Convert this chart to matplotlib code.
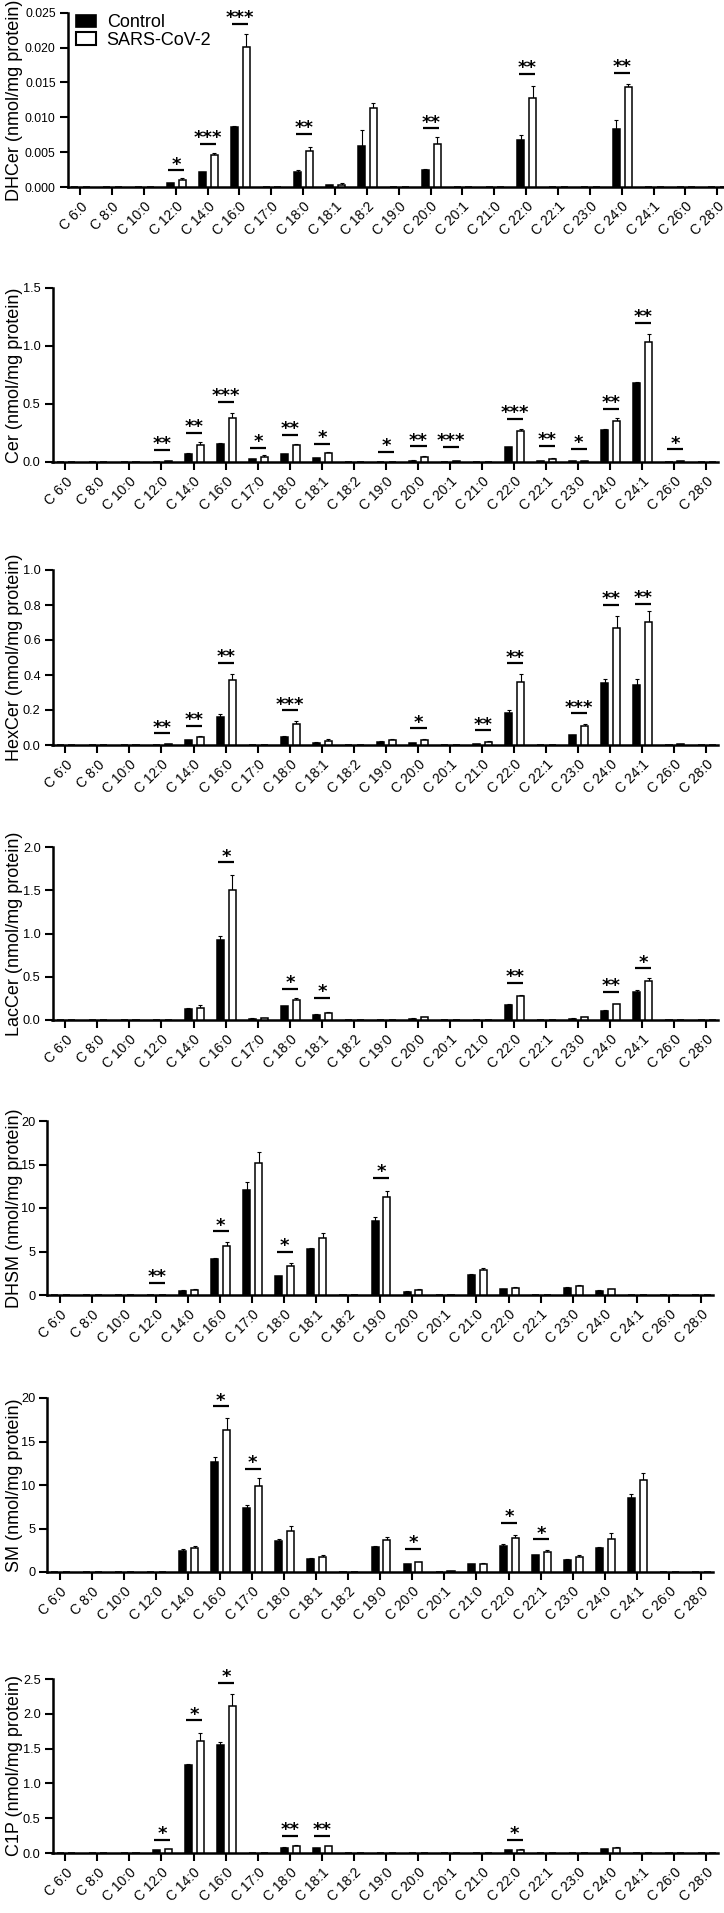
import numpy as np
import matplotlib
matplotlib.use('Agg')
import matplotlib.pyplot as plt
from matplotlib.patches import Patch

plt.rcParams['font.family'] = ['Liberation Sans', 'DejaVu Sans']

categories = ["C 6:0", "C 8:0", "C 10:0", "C 12:0", "C 14:0", "C 16:0", "C 17:0",
              "C 18:0", "C 18:1", "C 18:2", "C 19:0", "C 20:0", "C 20:1", "C 21:0",
              "C 22:0", "C 22:1", "C 23:0", "C 24:0", "C 24:1", "C 26:0", "C 28:0"]
legend_labels = ["Control", "SARS-CoV-2"]

# ---- DHCer ----
dhcer_ctrl = [0, 0, 0, 0.00053, 0.0021, 0.0086, 0, 0.0022, 0.00024, 0.0059, 0, 0.0025, 0, 0, 0.0068, 0, 0, 0.0083, 0, 0, 0]
dhcer_ctrl_err = [0, 0, 0, 0.00005, 0.0001, 0.0002, 0, 0.0003, 0.0001, 0.0023, 0, 0.0001, 0, 0, 0.0006, 0, 0, 0.0013, 0, 0, 0]
dhcer_sars = [0, 0, 0, 0.00105, 0.00465, 0.0201, 0, 0.0051, 0.00024, 0.0113, 0, 0.0062, 0, 0, 0.0128, 0, 0, 0.0144, 0, 0, 0]
dhcer_sars_err = [0, 0, 0, 0.00025, 0.00025, 0.0019, 0, 0.0007, 0.0004, 0.0008, 0, 0.0009, 0, 0, 0.0017, 0, 0, 0.0004, 0, 0, 0]
dhcer_sig_idx = [3, 4, 5, 7, 11, 14, 17]
dhcer_sig_txt = ["*", "***", "***", "**", "**", "**", "**"]
dhcer_sig_y = [0.0024, 0.0062, 0.0234, 0.0076, 0.0084, 0.0162, 0.0164]
dhcer_yticks = [0, 0.005, 0.010, 0.015, 0.020, 0.025]
dhcer_yticklabels = ["0.000", "0.005", "0.010", "0.015", "0.020", "0.025"]

# ---- Cer ----
cer_ctrl = [0, 0, 0, 0.003, 0.069, 0.152, 0.023, 0.066, 0.034, 0, 0.002, 0.012, 0.004, 0.002, 0.126, 0.010, 0.005, 0.273, 0.684, 0.003, 0]
cer_ctrl_err = [0, 0, 0, 0, 0.005, 0.012, 0.003, 0.005, 0.003, 0, 0, 0.002, 0, 0, 0.006, 0.001, 0, 0.014, 0.008, 0, 0]
cer_sars = [0, 0, 0, 0.010, 0.144, 0.382, 0.046, 0.144, 0.075, 0, 0.004, 0.040, 0.007, 0.001, 0.267, 0.029, 0.008, 0.356, 1.032, 0.006, 0]
cer_sars_err = [0, 0, 0, 0.002, 0.026, 0.038, 0.011, 0.014, 0.011, 0, 0, 0.009, 0.001, 0, 0.020, 0.005, 0.001, 0.020, 0.068, 0.001, 0]
cer_sig_idx = [3, 4, 5, 6, 7, 8, 10, 11, 12, 14, 15, 16, 17, 18, 19]
cer_sig_txt = ["**", "**", "***", "*", "**", "*", "*", "**", "***", "***", "**", "*", "**", "**", "*"]
cer_sig_y = [0.106, 0.253, 0.52, 0.12, 0.236, 0.155, 0.089, 0.135, 0.13, 0.37, 0.14, 0.115, 0.46, 1.20, 0.109]
cer_yticks = [0, 0.5, 1.0, 1.5]
cer_yticklabels = ["0.0", "0.5", "1.0", "1.5"]

# ---- HexCer ----
hex_ctrl = [0, 0, 0, 0.002, 0.027, 0.162, 0, 0.046, 0.013, 0, 0.019, 0.010, 0, 0.003, 0.181, 0, 0.055, 0.356, 0.345, 0.002, 0]
hex_ctrl_err = [0, 0, 0, 0, 0.003, 0.013, 0, 0.004, 0.004, 0, 0.004, 0.002, 0, 0, 0.019, 0, 0.004, 0.023, 0.034, 0, 0]
hex_sars = [0, 0, 0, 0.004, 0.048, 0.371, 0, 0.122, 0.021, 0, 0.030, 0.029, 0, 0.017, 0.360, 0, 0.110, 0.667, 0.703, 0.005, 0]
hex_sars_err = [0, 0, 0, 0, 0.005, 0.037, 0, 0.017, 0.013, 0, 0.006, 0.007, 0, 0.004, 0.048, 0, 0.010, 0.070, 0.061, 0, 0]
hex_sig_idx = [3, 4, 5, 7, 11, 13, 14, 16, 17, 18]
hex_sig_txt = ["**", "**", "**", "***", "*", "**", "**", "***", "**", "**"]
hex_sig_y = [0.067, 0.11, 0.47, 0.198, 0.095, 0.084, 0.467, 0.181, 0.80, 0.806]
hex_yticks = [0, 0.2, 0.4, 0.6, 0.8, 1.0]
hex_yticklabels = ["0.0", "0.2", "0.4", "0.6", "0.8", "1.0"]

# ---- LacCer ----
lac_ctrl = [0, 0, 0, 0, 0.127, 0.93, 0.015, 0.158, 0.062, 0, 0, 0.015, 0, 0, 0.173, 0, 0.015, 0.108, 0.323, 0, 0]
lac_ctrl_err = [0, 0, 0, 0, 0.011, 0.04, 0.004, 0.008, 0.008, 0, 0, 0.004, 0, 0, 0.012, 0, 0.003, 0.007, 0.027, 0, 0]
lac_sars = [0, 0, 0, 0, 0.138, 1.508, 0.019, 0.23, 0.085, 0, 0, 0.03, 0, 0, 0.277, 0, 0.035, 0.18, 0.45, 0, 0]
lac_sars_err = [0, 0, 0, 0, 0.035, 0.172, 0.008, 0.02, 0.006, 0, 0, 0.004, 0, 0, 0.013, 0, 0.004, 0.01, 0.035, 0, 0]
lac_sig_idx = [5, 7, 8, 14, 17, 18]
lac_sig_txt = ["*", "*", "*", "**", "**", "*"]
lac_sig_y = [1.823, 0.36, 0.26, 0.427, 0.323, 0.596]
lac_yticks = [0, 0.5, 1.0, 1.5, 2.0]
lac_yticklabels = ["0.0", "0.5", "1.0", "1.5", "2.0"]

# ---- DHSM ----
dhsm_ctrl = [0, 0, 0, 0.02, 0.5, 4.17, 12.05, 2.14, 5.28, 0, 8.45, 0.38, 0, 2.26, 0.65, 0, 0.80, 0.50, 0, 0, 0]
dhsm_ctrl_err = [0, 0, 0, 0, 0.05, 0.11, 0.99, 0.08, 0.15, 0, 0.5, 0.08, 0, 0.11, 0.08, 0, 0.08, 0.07, 0, 0, 0]
dhsm_sars = [0, 0, 0, 0.05, 0.61, 5.62, 15.22, 3.29, 6.58, 0, 11.24, 0.57, 0, 2.83, 0.84, 0, 0.99, 0.65, 0, 0, 0]
dhsm_sars_err = [0, 0, 0, 0, 0.12, 0.42, 1.22, 0.38, 0.57, 0, 0.73, 0.08, 0, 0.27, 0.12, 0, 0.16, 0.08, 0, 0, 0]
dhsm_sig_idx = [3, 5, 7, 10]
dhsm_sig_txt = ["**", "*", "*", "*"]
dhsm_sig_y = [1.41, 7.3, 4.93, 13.46]
dhsm_yticks = [0, 5, 10, 15, 20]
dhsm_yticklabels = ["0", "5", "10", "15", "20"]

# ---- SM ----
sm_ctrl = [0, 0, 0, 0.03, 2.4, 12.63, 7.4, 3.59, 1.53, 0, 2.9, 0.88, 0.05, 0.88, 2.94, 1.9, 1.41, 2.79, 8.51, 0.02, 0]
sm_ctrl_err = [0, 0, 0, 0, 0.23, 0.54, 0.35, 0.15, 0.05, 0, 0.08, 0.04, 0, 0.04, 0.23, 0.04, 0.07, 0.11, 0.49, 0, 0]
sm_sars = [0, 0, 0, 0.05, 2.71, 16.3, 9.85, 4.69, 1.76, 0, 3.7, 1.1, 0.1, 0.95, 3.89, 2.33, 1.72, 3.85, 10.57, 0.04, 0]
sm_sars_err = [0, 0, 0, 0, 0.23, 1.45, 0.91, 0.54, 0.14, 0, 0.38, 0.08, 0, 0.12, 0.35, 0.19, 0.23, 0.62, 0.8, 0, 0]
sm_sig_idx = [5, 6, 11, 14, 15]
sm_sig_txt = ["*", "*", "*", "*", "*"]
sm_sig_y = [19.05, 11.83, 2.63, 5.61, 3.74]
sm_yticks = [0, 5, 10, 15, 20]
sm_yticklabels = ["0", "5", "10", "15", "20"]

# ---- C1P ----
c1p_ctrl = [0, 0, 0, 0.038, 1.27, 1.547, 0, 0.077, 0.072, 0, 0, 0, 0, 0, 0.038, 0, 0, 0.053, 0, 0, 0]
c1p_ctrl_err = [0, 0, 0, 0.003, 0.01, 0.048, 0, 0.005, 0.005, 0, 0, 0, 0, 0, 0.003, 0, 0, 0.005, 0, 0, 0]
c1p_sars = [0, 0, 0, 0.053, 1.61, 2.11, 0, 0.105, 0.096, 0, 0, 0, 0, 0, 0.048, 0, 0, 0.072, 0, 0, 0]
c1p_sars_err = [0, 0, 0, 0.009, 0.12, 0.17, 0, 0.01, 0.006, 0, 0, 0, 0, 0, 0.004, 0, 0, 0.008, 0, 0, 0]
c1p_sig_idx = [3, 4, 5, 7, 8, 14]
c1p_sig_txt = ["*", "*", "*", "**", "**", "*"]
c1p_sig_y = [0.187, 1.906, 2.447, 0.249, 0.249, 0.19]
c1p_yticks = [0, 0.5, 1.0, 1.5, 2.0, 2.5]
c1p_yticklabels = ["0.0", "0.5", "1.0", "1.5", "2.0", "2.5"]

panels = [
    ("DHCer (nmol/mg protein)", dhcer_ctrl, dhcer_ctrl_err, dhcer_sars, dhcer_sars_err,
     dhcer_sig_idx, dhcer_sig_txt, dhcer_sig_y, dhcer_yticks, dhcer_yticklabels),
    ("Cer (nmol/mg protein)", cer_ctrl, cer_ctrl_err, cer_sars, cer_sars_err,
     cer_sig_idx, cer_sig_txt, cer_sig_y, cer_yticks, cer_yticklabels),
    ("HexCer (nmol/mg protein)", hex_ctrl, hex_ctrl_err, hex_sars, hex_sars_err,
     hex_sig_idx, hex_sig_txt, hex_sig_y, hex_yticks, hex_yticklabels),
    ("LacCer (nmol/mg protein)", lac_ctrl, lac_ctrl_err, lac_sars, lac_sars_err,
     lac_sig_idx, lac_sig_txt, lac_sig_y, lac_yticks, lac_yticklabels),
    ("DHSM (nmol/mg protein)", dhsm_ctrl, dhsm_ctrl_err, dhsm_sars, dhsm_sars_err,
     dhsm_sig_idx, dhsm_sig_txt, dhsm_sig_y, dhsm_yticks, dhsm_yticklabels),
    ("SM (nmol/mg protein)", sm_ctrl, sm_ctrl_err, sm_sars, sm_sars_err,
     sm_sig_idx, sm_sig_txt, sm_sig_y, sm_yticks, sm_yticklabels),
    ("C1P (nmol/mg protein)", c1p_ctrl, c1p_ctrl_err, c1p_sars, c1p_sars_err,
     c1p_sig_idx, c1p_sig_txt, c1p_sig_y, c1p_yticks, c1p_yticklabels),
]

# layout in pixels: (left spine x, top y, bottom y, tick spacing, ytick font size)
W, H = 724, 1913
layout = [(67.5, 12.7, 187, 31.85, 8.7), (52.5, 288, 462, 32.05, 9.2),
          (52.5, 570, 745, 32.05, 9.2), (52.5, 847, 1020, 32.05, 9.2),
          (47.0, 1121, 1295, 32.05, 9.2), (47.0, 1398, 1572, 32.05, 9.2),
          (52.5, 1679, 1853, 32.05, 9.2)]
XMIN, XMAX = -0.4, 20.38

fig = plt.figure(figsize=(W / 100, H / 100), dpi=100)
x = np.arange(len(categories))

for (ylabel, c, ce, s, se, sidx, stxt, sy, yt, ytl), (lft, top, bot, spc, yfs) in zip(panels, layout):
    wpx = (XMAX - XMIN) * spc
    ax = fig.add_axes([lft / W, 1 - bot / H, wpx / W, (bot - top) / H])
    ax.set_xlim(XMIN, XMAX)
    ax.set_ylim(yt[0], yt[-1])
    for sp in ("top", "right"):
        ax.spines[sp].set_visible(False)
    for sp in ("left", "bottom"):
        ax.spines[sp].set_linewidth(1.8)
    c = np.array(c); s = np.array(s)
    ax.bar(x - 0.165, c, 0.22, color="black", edgecolor="black", linewidth=1.1, zorder=3)
    ax.bar(x + 0.205, s, 0.22, color="white", edgecolor="black", linewidth=1.1, zorder=3)
    ax.errorbar(x - 0.165, c, yerr=[np.zeros_like(c), np.array(ce)], fmt="none",
                ecolor="black", elinewidth=0.8, capsize=1.6, capthick=0.8, zorder=2)
    ax.errorbar(x + 0.205, s, yerr=[np.zeros_like(s), np.array(se)], fmt="none",
                ecolor="black", elinewidth=0.8, capsize=1.6, capthick=0.8, zorder=2)
    for i, t, yv in zip(sidx, stxt, sy):
        ax.plot([i - 0.23, i + 0.27], [yv, yv], color="black", lw=1.6,
                solid_capstyle="butt", clip_on=False, zorder=4)
        ax.annotate(t, (i + 0.02, yv), xytext=(0, 0.5), textcoords="offset points",
                    ha="center", va="baseline", fontsize=13, fontweight="bold",
                    family="DejaVu Sans", annotation_clip=False)
    ax.set_xticks(x)
    ax.set_xticklabels(categories, rotation=45, ha="right", rotation_mode="anchor",
                       fontsize=10)
    ax.set_yticks(yt)
    ax.set_yticklabels(ytl, fontsize=yfs)
    ax.tick_params(axis="both", direction="out", length=6, width=1.5, pad=2.5)
    ax.tick_params(axis="x", pad=3)
    ax.set_ylabel(ylabel, fontsize=13)
    ax.yaxis.set_label_coords((14.5 - lft) / wpx, 0.5)
    ax.yaxis.label.set_verticalalignment("center")

ax0 = fig.axes[0]
handles = [Patch(facecolor="black", edgecolor="black", linewidth=1.2),
           Patch(facecolor="white", edgecolor="black", linewidth=1.5)]
ax0.legend(handles, legend_labels, loc="upper left",
           bbox_to_anchor=(76.0 / W, 1 - 14.0 / H), bbox_transform=fig.transFigure,
           frameon=False, fontsize=13, handlelength=1.1, handleheight=0.67,
           handletextpad=0.6, labelspacing=0.05, borderaxespad=0, borderpad=0)

fig.savefig("out.png", dpi=100)
